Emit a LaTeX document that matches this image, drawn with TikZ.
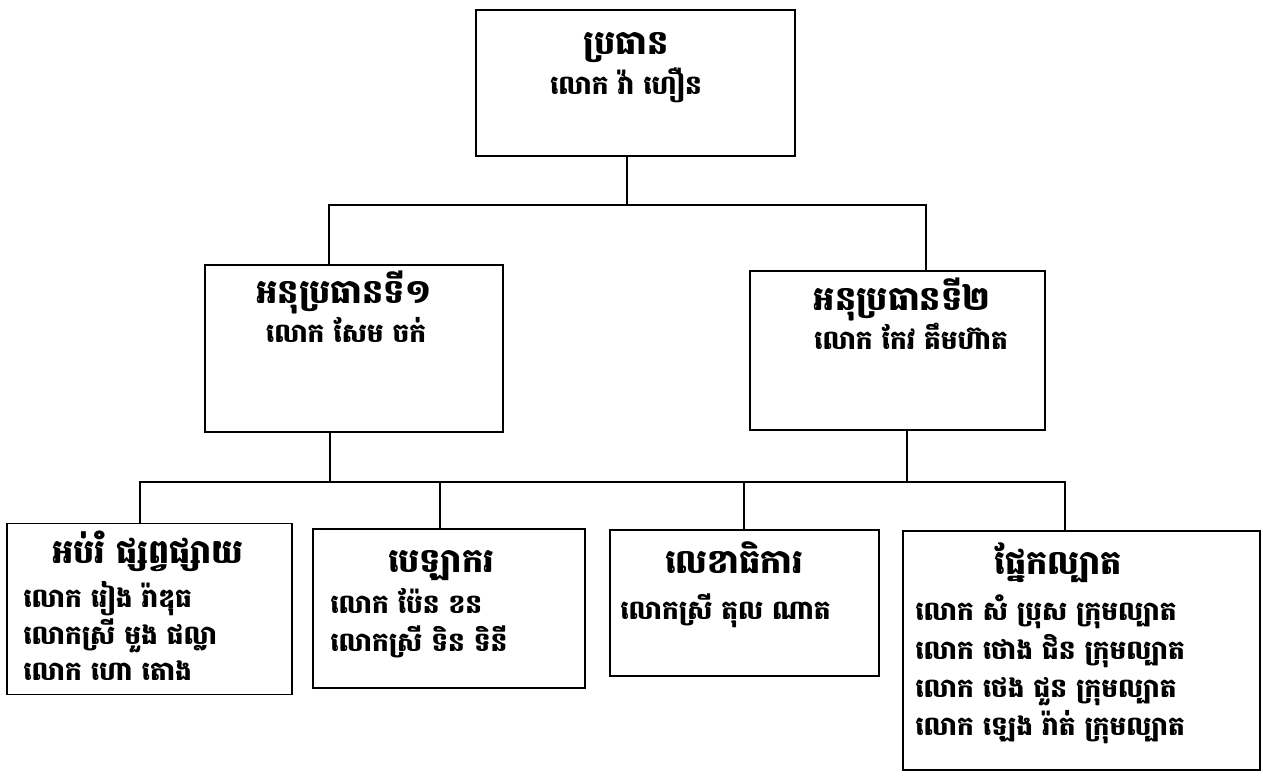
\documentclass[tikz,border=0pt]{standalone}
\usepackage{fontspec}
\newfontfamily\khmer[Script=Khmer]{Battambang}
\usetikzlibrary{positioning}

\begin{document}
\begin{tikzpicture}[x=0.02cm,y=-0.02cm,
  box/.style={draw, line width=1.1pt, inner sep=0pt},
  title/.style={font=\khmer\bfseries\fontsize{19}{22}\selectfont, inner sep=0pt, text height=9pt, text depth=0pt},
  person/.style={font=\khmer\bfseries\fontsize{15}{20}\selectfont, inner sep=0pt, text height=7pt, text depth=0pt},
  link/.style={line width=1pt}]
\useasboundingbox (0,0) rectangle (1263,776);

% boxes
\node[box, minimum width=6.38cm, minimum height=2.92cm] (chair) at (635.5,83) {};
\node[box, minimum width=5.96cm, minimum height=3.34cm] (vp1) at (354,348.5) {};
\node[box, minimum width=5.9cm, minimum height=3.18cm] (vp2) at (897.5,350.5) {};
\node[box, minimum width=5.7cm, minimum height=3.42cm] (b1) at (149.5,609) {};
\node[box, minimum width=5.44cm, minimum height=3.18cm] (b2) at (449,608.5) {};
\node[box, minimum width=5.38cm, minimum height=2.92cm] (b3) at (744.5,603) {};
\node[box, minimum width=7.14cm, minimum height=4.78cm] (b4) at (1081.5,650.5) {};

% texts
\node[title] (chairT) at (626,47) {ប្រធាន};
\node[person] (chairN) at (626,88) {លោក វ៉ា ហឿន};
\node[title] (vp1T) at (344,296) {អនុប្រធានទី១};
\node[person] (vp1N) at (346,336) {លោក សែម ចក់};
\node[title] (vp2T) at (902,303) {អនុប្រធានទី២};
\node[person] (vp2N) at (911,343) {លោក កែវ គឹមហ៊ាត};

\node[title] (b1T) at (148,556) {អប់រំ ផ្សព្វផ្សាយ};
\node[person, anchor=west] (b1n1) at (23,601) {លោក រៀង រ៉ាឌុធ};
\node[person, anchor=west] (b1n2) at (23,638) {លោកស្រី មួង ផល្លា};
\node[person, anchor=west] (b1n3) at (23,674) {លោក ហោ តោង};

\node[title] (b2T) at (441,565) {បេឡាករ};
\node[person, anchor=west] (b2n1) at (330,607) {លោក ប៉ែន ខន};
\node[person, anchor=west] (b2n2) at (330,645) {លោកស្រី ទិន ទិនី};

\node[title] (b3T) at (734,566) {លេខាធិការ};
\node[person, anchor=west] (b3n1) at (620,613) {លោកស្រី តុល ណាត};

\node[title] (b4T) at (1058,567) {ផ្នែកល្បាត};
\node[person, anchor=west] (b4n1) at (915,614) {លោក សំ ប្រុស ក្រុមល្បាត};
\node[person, anchor=west] (b4n2) at (915,653) {លោក ថោង ជិន ក្រុមល្បាត};
\node[person, anchor=west] (b4n3) at (915,691) {លោក ថេង ជួន ក្រុមល្បាត};
\node[person, anchor=west] (b4n4) at (915,729) {លោក ឡេង រ៉ាត់ ក្រុមល្បាត};

% connectors
\coordinate (chairDrop) at (627,205);
\coordinate (busL) at (329,205);
\coordinate (busR) at (926,205);
\draw[link] (chair.south -| chairDrop) -- (chairDrop);
\draw[link] (vp1.north -| busL) -- (busL) -- (busR) -- (vp2.north -| busR);

\coordinate (vp1Drop) at (330,482);
\coordinate (vp2Drop) at (907,482);
\coordinate (bus1) at (140,482);
\coordinate (bus2) at (440,482);
\coordinate (bus3) at (744,482);
\coordinate (bus4) at (1065,482);
\draw[link] (vp1.south -| vp1Drop) -- (vp1Drop);
\draw[link] (vp2.south -| vp2Drop) -- (vp2Drop);
\draw[link] (b1.north -| bus1) -- (bus1) -- (bus4) -- (b4.north -| bus4);
\draw[link] (b2.north -| bus2) -- (bus2);
\draw[link] (b3.north -| bus3) -- (bus3);
\end{tikzpicture}
\end{document}
